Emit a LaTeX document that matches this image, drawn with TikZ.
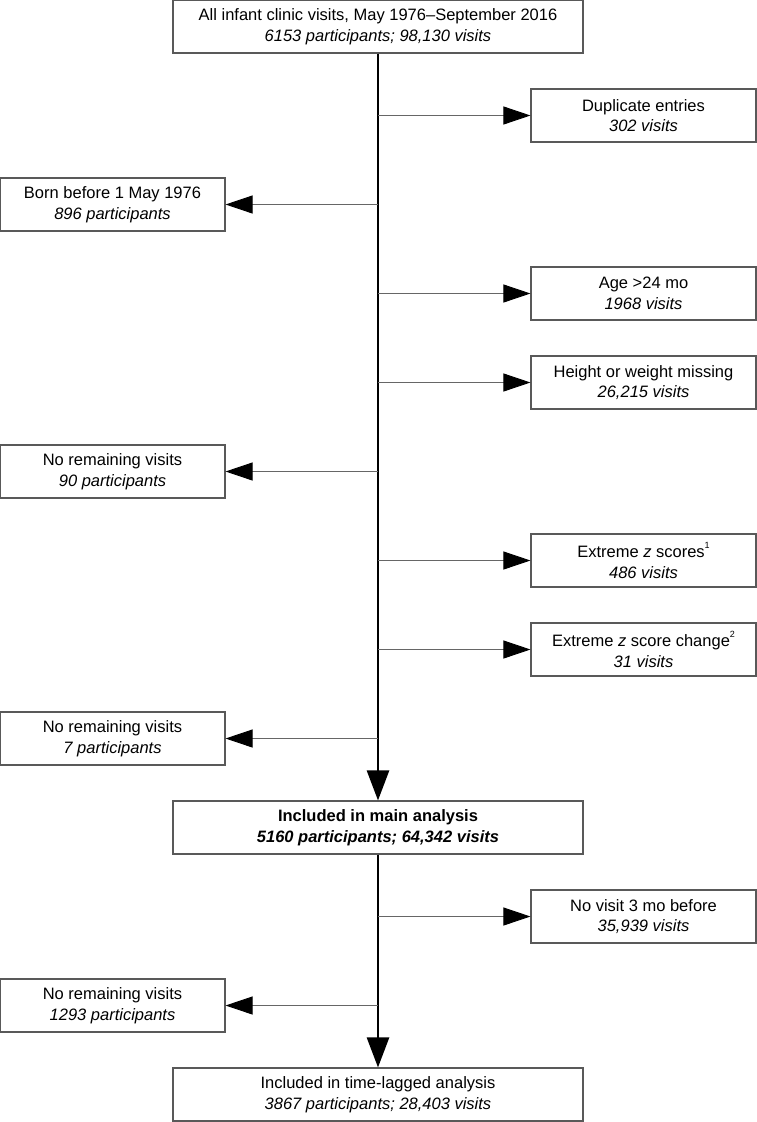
\documentclass[tikz,border=0pt]{standalone}
\usepackage{fontspec}
\setmainfont{Liberation Sans}
\usetikzlibrary{arrows.meta,positioning}
\newcommand{\fnmark}[1]{\raisebox{0.55em}{\fontsize{9}{9}\selectfont #1}}

\begin{document}
\begin{tikzpicture}[x=1pt,y=1pt,node distance=89pt and 265.5pt,on grid,
	box/.style={draw=black!65,line width=1.1pt,minimum height=53pt,inner sep=0pt,align=center,font=\fontsize{16.5}{20.5}\selectfont},
	side/.style={box,minimum width=225pt},
	mid/.style={box,minimum width=410pt},
	thin/.style={draw=black!60,line width=0.9pt,-{Triangle[length=27pt,width=18pt,color=black]}},
	thick/.style={line width=2.6pt,-{Triangle[length=30pt,width=22pt]}}]
	\useasboundingbox (0,0) rectangle (756,-1122);
	\node[mid] (all) at (378,-26.5) {All infant clinic visits, May 1976--September 2016\\\textit{6153 participants; 98,130 visits}};
	\coordinate[below=of all] (c1);
	\node[side] (dup) [right=of c1,anchor=center] {Duplicate entries\\\textit{302 visits}};
	\coordinate[below=of c1] (c2);
	\node[side] (born) [left=of c2,anchor=center] {Born before 1 May 1976\\\textit{896 participants}};
	\coordinate[below=of c2] (c3);
	\node[side] (age) [right=of c3,anchor=center] {Age >24 mo\\\textit{1968 visits}};
	\coordinate[below=of c3] (c4);
	\node[side] (hw) [right=of c4,anchor=center] {Height or weight missing\\\textit{26,215 visits}};
	\coordinate[below=of c4] (c5);
	\node[side] (norem1) [left=of c5,anchor=center] {No remaining visits\\\textit{90 participants}};
	\coordinate[below=of c5] (c6);
	\node[side] (zs) [right=of c6,anchor=center] {Extreme \textit{z} scores\fnmark{1}\\\textit{486 visits}};
	\coordinate[below=of c6] (c7);
	\node[side] (zc) [right=of c7,anchor=center] {Extreme \textit{z} score change\fnmark{2}\\\textit{31 visits}};
	\coordinate[below=of c7] (c8);
	\node[side] (norem2) [left=of c8,anchor=center] {No remaining visits\\\textit{7 participants}};
	\node[mid] (main) [below=of c8,anchor=center] {\bfseries Included in main analysis\\\bfseries\itshape 5160 participants; 64,342 visits};
	\coordinate[below=of main] (c9);
	\node[side] (novis) [right=of c9,anchor=center] {No visit 3 mo before\\\textit{35,939 visits}};
	\coordinate[below=of c9] (c10);
	\node[side] (norem3) [left=of c10,anchor=center] {No remaining visits\\\textit{1293 participants}};
	\node[mid] (lag) [below=of c10,anchor=center] {Included in time-lagged analysis\\\textit{3867 participants; 28,403 visits}};
	% spine
	\draw[thick] (all) -- (main);
	\draw[thick] (main) -- (lag);
	% exclusions
	\draw[thin] (c1) -- (dup);
	\draw[thin] (c2) -- (born);
	\draw[thin] (c3) -- (age);
	\draw[thin] (c4) -- (hw);
	\draw[thin] (c5) -- (norem1);
	\draw[thin] (c6) -- (zs);
	\draw[thin] (c7) -- (zc);
	\draw[thin] (c8) -- (norem2);
	\draw[thin] (c9) -- (novis);
	\draw[thin] (c10) -- (norem3);
\end{tikzpicture}
\end{document}
